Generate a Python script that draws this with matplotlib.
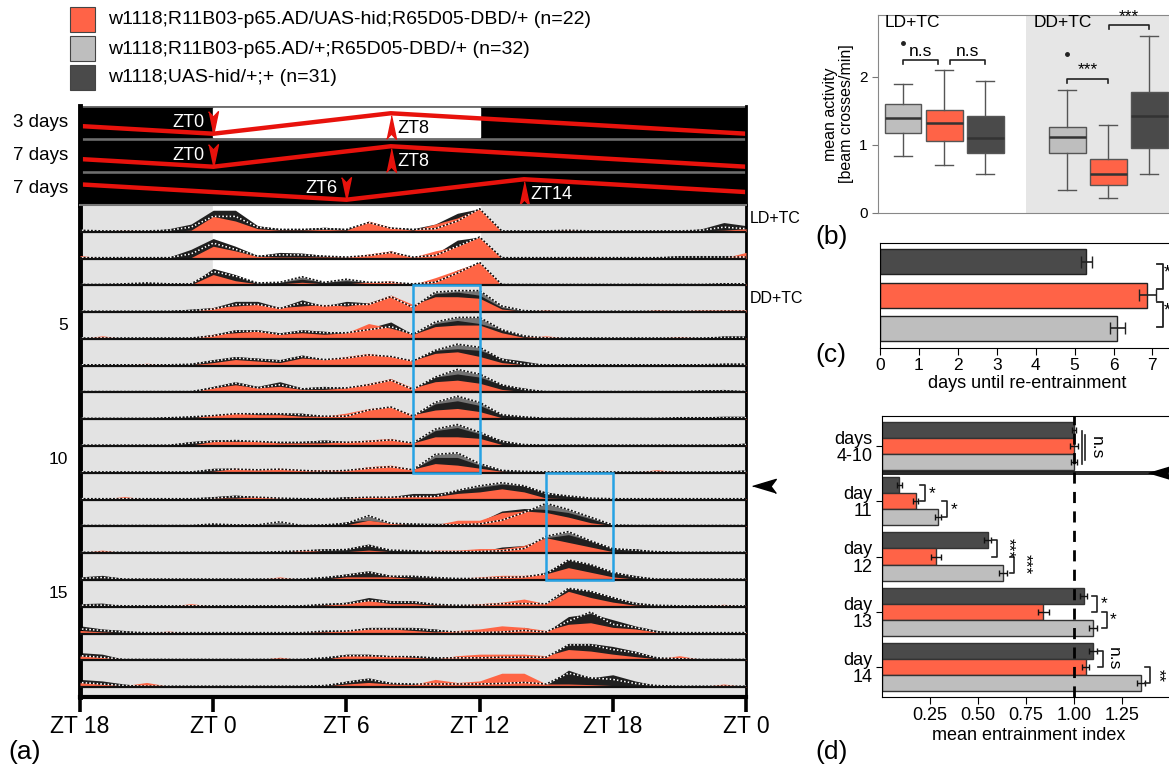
import numpy as np
import matplotlib.pyplot as plt
from matplotlib.patches import Rectangle

plt.rcParams['font.family'] = ['Liberation Sans', 'DejaVu Sans']

W, H = 1169, 770
RED = '#ff6347'
GREY = '#bebebe'
DARK = '#4a4a4a'

# ---------------- data ----------------
genotypes = ['w1118;R11B03-p65.AD/UAS-hid;R65D05-DBD/+ (n=22)',
             'w1118;R11B03-p65.AD/+;R65D05-DBD/+ (n=32)',
             'w1118;UAS-hid/+;+ (n=31)']
geno_colors = [RED, GREY, DARK]

# actogram: hourly activity (tenths of row height), hour 0 = ZT18 of previous day
hours = np.arange(31)
zt_ticks = [0, 6, 12, 18, 24, 30]
zt_labels = ['ZT 18', 'ZT 0', 'ZT 6', 'ZT 12', 'ZT 18', 'ZT 0']
ld_days = 3           # first days with lights on ZT0-ZT12
light_hours = (6, 18)

red_act = [
    [.3,.2,.6,.3,.2,.5,5,3.5,1,.5,.5,.8,.5,3.5,1.5,.5,2.5,4.5,7.5,0,.2,.2,.8,.2,.2,.2,.2,.2,.3,.5,1],
    [1,.2,.2,.2,.2,.3,4,2.5,.7,.5,.5,.5,.5,1.5,2.5,.5,2.5,4,7,0,.2,.2,.5,.5,.2,.2,.2,.2,.2,.2,2],
    [.3,.2,.2,.3,.2,.2,3.5,1.5,.5,.5,1,.5,.5,1,1.5,.3,2.5,5,7.5,0,.2,.2,.2,.2,.2,.2,.2,.2,.2,.2,.5],
    [.2,.2,.2,.2,.2,.3,1.5,2,2.5,1.5,2,2.5,2,3,5.5,2.5,5,5,4.5,1,.3,.8,.3,.3,.3,.3,.8,.5,.8,.8,.8],
    [.2,1,.2,.5,.2,.3,1.5,2,2.5,1.5,2,1.5,2,5,3.5,1.5,4,4.5,4.5,2,.5,1,.3,.3,.3,.3,.3,.8,.3,.3,.3],
    [.2,.2,.2,.8,.3,.3,1,2,1.5,1,2.5,2,3,4,3,1.8,4,4.5,3,1,.3,.3,.3,.3,.3,.3,.3,.3,.3,.3,.3],
    [.2,.2,.2,.2,.2,.3,1.5,2.5,1.5,2,1,1,1.5,3,4.5,1.5,3.5,4,3,1,.3,.3,.3,.3,.3,.3,.3,.3,.3,.3,.3],
    [.2,.2,.2,.2,.2,.3,1.5,2,1.5,1.5,1,1,2,3.5,4,1.5,3,3.5,2.5,.5,.3,.3,.3,.3,.3,.3,.3,.3,.3,.3,.3],
    [.2,.2,.2,.2,.2,.3,1.5,1.5,1.5,1,1,1,1.5,2,2.5,1,3,3,2.5,.5,.3,.3,.3,.3,.3,.3,.3,.3,.3,.3,.3],
    [.2,.2,.2,.2,.2,.3,.5,1.5,1,1.5,1,1,1,2,2.5,1.2,3,2.5,1.5,.5,.3,.3,.3,.3,.3,.3,1,.3,.3,.3,.3],
    [.2,.2,1,.2,.2,.2,.5,.5,1,.5,.3,.5,.5,1,1,1,1,2,2.5,3.5,2.5,.5,.3,.3,.3,.3,.3,.3,.3,.3,.3],
    [.2,.2,.2,.2,.2,.2,.3,.3,.5,.3,.3,.3,.5,2,1,.5,.5,2,2,4.5,5,4.5,3,1.2,.3,.3,.3,.3,.3,.3,.3],
    [.2,1,.2,.5,.2,.3,.5,.3,.3,.3,1,.5,.5,1,.5,.3,1,1,1.5,1.5,2.5,5,3.5,2,.5,.3,.3,.5,.3,.3,.3],
    [.3,.5,.2,.5,.2,.2,.2,.2,.2,1,.2,.3,1,1,1,.5,.5,.5,1,1.5,1.5,2,4,2.5,1,.3,.3,.3,.5,.3,.2],
    [.5,.3,.2,.2,.2,1,.2,.2,.2,.2,.3,.5,1,2,1,1,.5,.5,1,1.5,2.5,1,5,3,1.5,.5,.3,.3,.3,.8,.2],
    [1,.5,.2,.3,.8,.2,.2,.2,.2,.2,.5,.5,1,1.5,1.5,1,.5,1,1.5,2.5,2,1,3,3.5,2,1.5,.5,.3,.3,.3,.3],
    [1.5,1,.5,.2,.2,.2,.2,.2,.2,1,.2,.3,1.5,1.5,1.5,1,.5,1.5,2,2,2,1.5,3.5,3,2,1.2,.5,1.5,.3,.2,.2],
    [1.5,1,.5,1.5,.3,.2,.2,.2,.2,.2,.2,.3,1,1.5,1,.8,2.5,1.5,2,4.5,4.5,1,1,.8,.5,.5,.5,.2,.2,1,.2],
]
dark_act = [
    [.5,.3,.3,.3,1,2.5,7,7,2,1,1,1.5,1,3,1.5,1,2.5,6,7.5,.3,.3,.3,.3,.5,.3,.3,.3,.3,1,3,2],
    [.3,.3,.3,.3,.5,3,6.5,4,1,2,1.8,1,.5,1,2.5,.5,1.5,6,7,.5,.3,.3,.3,.3,.3,.3,.5,1,1,1,1],
    [.5,.5,.5,1,.5,.5,5.5,3.5,.8,1,2,1,1.5,1,1,.5,1.5,5,7.5,.3,.3,.3,.3,.3,.3,.3,.3,.3,.5,.8,.5],
    [.3,.3,.3,.3,.5,1,1.5,3.5,3.5,1.5,4,2,3.5,3,5.5,2,6,6.5,5.5,1.5,.3,.3,.3,.3,.3,.3,.3,.3,.5,.5,.5],
    [.3,.3,.3,.3,.3,.5,1.5,3,3,2,3,2.5,2,3.5,5.5,1.5,5,6,5,3,1,.5,.3,.3,.3,.3,.3,.3,.3,1,1],
    [.3,.3,.3,.3,.3,.8,2,3,2.5,2,3.5,2,2.5,3.5,3,1.8,5,5.5,5,2.5,1.5,.3,.3,.3,.3,.3,.3,.3,.3,.8,.8],
    [.3,.3,.3,.3,.3,.5,2,3.5,2,3.5,1.5,2,1.5,2.5,4.5,1.2,5,6,5,2.5,1.5,.3,.3,.3,.3,.3,.3,.3,.8,1,.5],
    [.3,.3,.3,.3,.8,1,1.5,2,2,2,2,1,1,3,4,1.2,5,6,4.5,1.5,1,.3,.3,.3,.3,.3,.3,.8,.8,1,1],
    [.3,.3,.3,.5,.5,1.5,2,2,1.5,1.5,1.5,2,1.5,1.5,2,1,5,6,4,2,.5,.3,.3,.3,.3,.3,.3,.3,.3,.5,1],
    [.3,.3,.3,.3,.3,.5,1.5,1.5,1,1,1,.5,1,1.5,2,1.2,5,5,2.5,1,.5,.3,.3,.3,.3,.3,.3,.3,.3,.5,1],
    [.3,.3,.3,.3,.3,.5,1,1.5,1,.5,.5,.3,1,1,1,2,2,3,4,5,4.5,2.5,1.2,.5,.3,.3,.3,.3,.3,.3,.5],
    [.3,.3,.3,.3,.3,.3,1,.5,.5,.5,.3,.5,1.5,2,1,1,1,1,1.5,5,5.8,5.5,4.5,2.5,.5,.3,.3,.3,.3,.3,.3],
    [.3,.3,.3,.3,.3,.3,.3,.3,.3,.5,1,1.5,1.5,3,1,1,.5,.5,.5,2,2.5,5,6,4,1.5,1.5,.5,.3,.3,.3,.3],
    [1,1.5,.5,.3,.3,.3,.3,.3,.3,.3,.5,1,2,3,1.5,1.5,1,.5,.5,.5,.5,2.7,6.5,5,2.5,1.5,.3,.3,.3,.3,.3],
    [1,1.2,.3,.3,.3,.3,.3,.3,.3,.3,.5,1,1.5,3,2,2,1,.5,.5,.5,.5,.5,6,5,3,1.5,.5,.3,.3,.3,.3],
    [2.5,1.5,1,.3,.3,.3,.3,.3,.3,.3,.3,1,1,2,2,2,1.5,.5,.3,.3,2,.5,5.5,6.5,4.5,2.5,1,.3,.3,.3,.3],
    [2.5,2,.3,.3,.3,.3,.3,.3,.3,.3,.3,1,2,2,1.5,1.5,1,.5,.3,.3,1.5,.5,5.5,5.5,4.5,3,1,.3,.3,.3,.3],
    [2.5,2,1,.3,.3,.3,.3,.5,.3,.3,.3,.5,2,3,1.5,1.2,1,.5,.3,.3,.3,.5,5.5,3,4,2,.5,.3,.3,.3,.3],
]
grey_act = [
    [.5,.3,.3,.3,.5,1.5,5,5,1.5,.8,.8,1,.8,3,1.2,.8,1,3.5,7.5,.3,.3,.3,.5,.3,.3,.3,.3,.3,.5,1.5,1],
    [.3,.3,.3,.3,.3,1.5,5,3,.8,1.2,1.2,.8,.5,1,2,.5,1,4,7,.3,.3,.3,.3,.3,.3,.3,.3,.5,.5,.5,.5],
    [.3,.3,.5,.8,.5,.5,4.5,3,.8,1,2.8,1,2,1,1,.5,1,4,7.5,.3,.3,.3,.3,.3,.3,.3,.3,.3,.3,.5,.5],
    [.3,.3,.3,.3,.3,.5,1,2.5,2.5,1.2,3,2,2.5,2.5,5,1.5,6.5,7,7,2,.5,.3,.3,.3,.3,.3,.3,.3,.3,.3,.3],
    [.3,.3,.3,.3,.3,.3,1,2.5,2.5,1.5,2.5,2,2,3,4,1.5,5.5,7,7,3,1,.3,.3,.3,.3,.3,.3,.3,.3,.5,.5],
    [.3,.3,.3,.3,.3,.5,1.5,2.5,2,1.5,3,2,2.5,3.5,3,1.5,5,7,6,2,.5,.3,.3,.3,.3,.3,.3,.3,.3,.5,.5],
    [.3,.3,.3,.3,.3,.3,1.5,3,1.5,2.5,1.2,1.5,1.5,2.5,4,1,5,7.5,6,2.5,1,.3,.3,.3,.3,.3,.3,.3,.5,.5,.3],
    [.3,.3,.3,.3,.5,.8,1.2,1.8,1.8,1.8,1.5,1,1,3,4,1,5.5,7.5,5.5,1.5,.8,.3,.3,.3,.3,.3,.3,.5,.5,.5,.5],
    [.3,.3,.3,.3,.3,1,1.5,1.8,1.5,1.2,1.2,1.5,1.2,1.5,2,1,5.5,7,4.5,1.5,.5,.3,.3,.3,.3,.3,.3,.3,.3,.3,.5],
    [.3,.3,.3,.3,.3,.3,1,1.2,1,1.2,.8,.5,.8,1.5,2,1,6,6.5,3,.8,.5,.3,.3,.3,.3,.3,.3,.3,.3,.3,.5],
    [.3,.3,.3,.3,.3,.3,.5,1,.8,.5,.3,.3,.5,.8,.8,1,1,3,4.5,5.5,4.5,2,1.2,.5,.3,.3,.3,.3,.3,.3,.3],
    [.3,.3,.3,.3,.3,.3,.8,.5,.5,1.5,.3,.5,1,3.5,1,.8,.5,.5,.8,2,4.5,7.5,5.5,3,.5,.3,.3,.3,.3,.3,.3],
    [.3,.3,.3,.3,.3,.3,.3,.3,.3,.5,.8,1,1.2,2.5,1,.8,.5,.5,.5,.8,1.5,5.5,7,4,1.5,1,.5,.3,.3,.3,.3],
    [.5,.8,.3,.3,.3,.3,.3,.3,.3,.3,.3,.8,1.5,2.5,1.2,1.2,.8,.5,.5,.8,1,2,6.5,5,2.5,1,.3,.3,.3,.3,.3],
    [.5,.5,.3,.3,.3,.3,.3,.3,.3,.3,.3,.8,1,2,1.5,1.5,.8,.5,.5,1,1,1,6,5,3,1,.5,.3,.3,.3,.3],
    [1.5,1,.5,.3,.3,.3,.3,.3,.3,.3,.3,.8,.8,1.5,1.5,1.5,1,.5,.3,.5,1,.5,4,7,3,2,.5,.3,.3,.3,.3],
    [1.5,1,.3,.3,.3,.3,.3,.3,.3,.3,.3,.8,1.5,1.5,1.2,1.2,.8,.8,.8,1,1,1,5,5,3.5,2.5,.8,.5,.3,.3,.3],
    [1.5,1,.5,.3,.3,.3,.3,.3,.3,.3,.3,.5,1.5,2.5,1.2,1,1,1,1,1.2,1.5,1,4.5,3,2.5,1.2,.5,.3,.3,.3,.3],
]
row_labels = [5, 10, 15]
box_days = [(4, 10), (11, 14)]
box_zt = [(9, 12), (15, 18)]

# temperature schedules (relative temperature, 0 = min, 1 = max)
temp_days = ['3 days', '7 days', '7 days']
temp_t = [[0, 6, 14, 30], [0, 6, 14, 30], [0, 12, 20, 30]]
temp_level = [[0.375, 0, 1, 0], [0.375, 0, 1, 0], [0.75, 0, 1, 0.375]]
temp_min_t = [6, 6, 12]
temp_max_t = [14, 14, 20]
temp_min_lab = ['ZT0', 'ZT0', 'ZT6']
temp_max_lab = ['ZT8', 'ZT8', 'ZT14']
temp_light = [True, False, False]

# (b) mean activity boxplots: LD+TC then DD+TC, each grey/red/dark
box_pos = [1, 2, 3, 5, 6, 7]
box_colors = [GREY, RED, DARK, GREY, RED, DARK]
box_whislo = [0.84, 0.71, 0.58, 0.34, 0.22, 0.57]
box_q1 = [1.17, 1.06, 0.88, 0.88, 0.41, 0.96]
box_med = [1.40, 1.32, 1.10, 1.11, 0.57, 1.42]
box_q3 = [1.60, 1.51, 1.42, 1.27, 0.80, 1.78]
box_whishi = [1.90, 2.10, 1.94, 1.81, 1.29, 2.60]
box_fliers = [[2.50], [], [], [2.33], [], []]

# (c) days until re-entrainment: dark, red, grey
reent_mean = [5.3, 6.87, 6.1]
reent_err = [0.14, 0.21, 0.2]

# (d) mean entrainment index
ei_groups = ['days\n4-10', 'day\n11', 'day\n12', 'day\n13', 'day\n14']
ei_dark = [1.0, 0.09, 0.55, 1.05, 1.10]
ei_red = [1.0, 0.175, 0.28, 0.84, 1.06]
ei_grey = [1.0, 0.29, 0.63, 1.10, 1.35]
ei_dark_err = [0.012, 0.012, 0.02, 0.02, 0.02]
ei_red_err = [0.02, 0.012, 0.025, 0.03, 0.02]
ei_grey_err = [0.015, 0.015, 0.02, 0.02, 0.02]


def fx(x):
    return x / W


def fy(y):
    return 1 - y / H


fig = plt.figure(figsize=(W / 100, H / 100), dpi=100)

# legend
for k, (lab, c) in enumerate(zip(genotypes, geno_colors)):
    yc = 20 + 29 * k
    fig.add_artist(Rectangle((fx(70), fy(yc + 12)), 25 / W, 25 / H, transform=fig.transFigure,
                             facecolor=c, edgecolor='#444', lw=0.8))
    fig.text(fx(108), fy(yc), lab, fontsize=14, va='center', ha='left')

# ---------------- (a) temperature bars ----------------
tax = fig.add_axes([fx(80), fy(205), (746 - 80) / W, (205 - 106) / H])
tax.set_xlim(0, 30)
tax.set_ylim(0, 3)
tax.set_facecolor('#6e6e6e')
arrow_down = [(-0.42, 1), (0, 0.55), (0.42, 1), (0, -1)]
arrow_up = [(-0.42, -1), (0, -0.55), (0.42, -1), (0, 1)]
for k in range(3):
    b = 2 - k + 0.06
    tax.add_patch(Rectangle((0, b), 30, 0.88, color='black', zorder=1))
    if temp_light[k]:
        tax.add_patch(Rectangle((light_hours[0], b), light_hours[1] - light_hours[0], 0.88,
                                color='white', zorder=1))
    tax.plot(temp_t[k], b + 0.1 + np.array(temp_level[k]) * 0.62, color='#e8120c', lw=3.2,
             solid_capstyle='butt', zorder=2)
    tax.plot(temp_min_t[k], b + 0.42, marker=arrow_down, ms=17, color='#e8120c', zorder=3)
    tax.plot(temp_max_t[k], b + 0.3, marker=arrow_up, ms=17, color='#e8120c', zorder=3)
    tax.text(temp_min_t[k] - 0.4, b + 0.45, temp_min_lab[k], color='white', fontsize=13,
             ha='right', va='center', zorder=4)
    tcol = 'black' if (temp_light[k] and temp_max_t[k] < light_hours[1]) else 'white'
    tax.text(temp_max_t[k] + 0.3, b + 0.27, temp_max_lab[k], color=tcol, fontsize=13,
             ha='left', va='center', zorder=4)
    tax.text(-0.55, b + 0.44, temp_days[k], fontsize=13.5, ha='right', va='center')
tax.set_xticks([])
tax.set_yticks([])
for s in ['top', 'bottom']:
    tax.spines[s].set_visible(False)
tax.spines['left'].set_linewidth(3.5)
tax.spines['right'].set_linewidth(2)

# ---------------- (a) actogram ----------------
ax = fig.add_axes([fx(80), fy(697), (746 - 80) / W, (697 - 205) / H])
ax.set_xlim(0, 30)
ax.set_ylim(-0.37, 18)
ax.set_facecolor('#e3e3e3')
s = 0.115
for i in range(18):
    base = 17 - i
    if i < ld_days:
        ax.add_patch(Rectangle((light_hours[0], base), light_hours[1] - light_hours[0], 1,
                               color='white', zorder=0))
    g = base + np.array(grey_act[i]) * s
    d = base + np.array(dark_act[i]) * s
    r = base + np.array(red_act[i]) * s
    ax.fill_between(hours, base, g, color='#747474', lw=0, zorder=1)
    ax.fill_between(hours, base, d, color='#202020', lw=0, zorder=2)
    ax.fill_between(hours, base, r, color='#ff6545', lw=0, zorder=3)
    ax.plot(hours, g, color='#111111', lw=1.1, ls=(0, (1.2, 1.2)), gapcolor='white', zorder=4)
    ax.axhline(base, color='#111111', lw=1.6, zorder=5)

for (d0, d1), (z0, z1) in zip(box_days, box_zt):
    ax.add_patch(Rectangle((z0 + 6, 18 - d1), z1 - z0, d1 - d0 + 1, fill=False,
                           edgecolor='#27a2e4', lw=1.8, zorder=6))

for r in row_labels:
    ax.text(-0.55, 18 - r + 0.5, str(r), fontsize=12.5, ha='right', va='center')
ax.text(30.15, 17.5, 'LD+TC', fontsize=11.5, ha='left', va='center')
ax.text(30.15, 14.5, 'DD+TC', fontsize=11.5, ha='left', va='center')
arrow_left = [(-1, 0), (1, 0.6), (0.55, 0), (1, -0.6)]
ax.plot(30.8, 7.5, marker=arrow_left, ms=17, color='black', clip_on=False)

ax.set_xticks(zt_ticks)
ax.set_xticklabels(zt_labels, fontsize=16.5)
ax.set_yticks([])
ax.tick_params(axis='x', length=11, width=2.6, pad=2)
ax.spines['left'].set_linewidth(3.5)
ax.spines['bottom'].set_linewidth(3)
ax.spines['right'].set_linewidth(2)
ax.spines['top'].set_color('#777777')
ax.spines['top'].set_linewidth(1.5)

# ---------------- (b) boxplots ----------------
bax = fig.add_axes([fx(878), fy(213), (1175 - 878) / W, (213 - 15) / H])
bax.set_xlim(0.39, 7.63)
bax.set_ylim(0, 2.91)
bax.axvspan(4, 8, color='#e6e6e6', lw=0, zorder=0)
stats = []
for i in range(len(box_pos)):
    stats.append(dict(whislo=box_whislo[i], q1=box_q1[i], med=box_med[i], q3=box_q3[i],
                      whishi=box_whishi[i], fliers=box_fliers[i]))
bp = bax.bxp(stats, positions=box_pos, widths=0.9, patch_artist=True, capwidths=0.45,
             boxprops=dict(edgecolor='#555555', lw=1),
             medianprops=dict(color='#333333', lw=1.8),
             whiskerprops=dict(color='#555555', lw=1),
             capprops=dict(color='#555555', lw=1),
             flierprops=dict(marker='o', ms=2.5, mfc='#222222', mec='#222222'))
for patch, c in zip(bp['boxes'], box_colors):
    patch.set_facecolor(c)


def hbracket(a, x1, x2, y, text, h=0.06):
    a.plot([x1, x1, x2, x2], [y - h, y, y, y - h], color='#222222', lw=1.2)
    a.text((x1 + x2) / 2, y + 0.02, text, ha='center', va='bottom', fontsize=12.5)


hbracket(bax, 1.0, 1.85, 2.25, 'n.s')
hbracket(bax, 2.15, 3.0, 2.25, 'n.s')
hbracket(bax, 5.0, 6.0, 1.97, '***')
hbracket(bax, 6.02, 7.0, 2.76, '***')
bax.text(0.56, 2.8, 'LD+TC', fontsize=12.5, va='center')
bax.text(4.19, 2.8, 'DD+TC', fontsize=12.5, va='center')
bax.set_xticks([])
bax.set_yticks([0, 1, 2])
bax.tick_params(axis='y', labelsize=11, length=4, color='#777777')
bax.set_ylabel('mean activity\n[beam crosses/min]', fontsize=11.5, labelpad=4, linespacing=1.05)
for sp in bax.spines.values():
    sp.set_color('#888888')

# ---------------- (c) re-entrainment ----------------
cax = fig.add_axes([fx(880), fy(348), (1175 - 880) / W, (348 - 243) / H])
cax.set_xlim(0, 7.58)
cax.set_ylim(-0.59, 2.57)
cax.barh([2, 1, 0], reent_mean, height=0.75, color=[DARK, RED, GREY], edgecolor='#222222',
         lw=1, xerr=reent_err, capsize=4.5, error_kw=dict(lw=1.2, ecolor='#222222'))
for (y1, y2) in [(1.95, 1.2), (0.8, 0.05)]:
    cax.plot([7.12, 7.26, 7.26, 7.12], [y1, y1, y2, y2], color='#222222', lw=1.3, clip_on=False)
    cax.text(7.3, (y1 + y2) / 2 + 0.1, '*', fontsize=13, ha='left', va='center', clip_on=False)
cax.set_xticks(range(8))
cax.set_yticks([])
cax.tick_params(axis='x', labelsize=12.5, length=5, pad=2)
cax.set_xlabel('days until re-entrainment', fontsize=13, labelpad=2)
cax.spines['right'].set_visible(False)

# ---------------- (d) entrainment index ----------------
dax = fig.add_axes([fx(882), fy(697), (1175 - 882) / W, (697 - 416) / H])
dax.set_xlim(0, 1.526)
dax.set_ylim(-4.54, 0.54)
y0 = -np.arange(len(ei_groups))
bh = 0.29
ekw = dict(lw=1, ecolor='#111111')
dax.barh(y0 + bh, ei_dark, height=bh, color=DARK, edgecolor='#333333', lw=1,
         xerr=ei_dark_err, capsize=2.2, error_kw=ekw)
dax.barh(y0, ei_red, height=bh, color=RED, edgecolor='#333333', lw=1,
         xerr=ei_red_err, capsize=2.2, error_kw=ekw)
dax.barh(y0 - bh, ei_grey, height=bh, color=GREY, edgecolor='#333333', lw=1,
         xerr=ei_grey_err, capsize=2.2, error_kw=ekw)
dax.axvline(1.0, color='black', lw=2, ls=(0, (4, 3)), zorder=5)
dax.axhline(-0.47, color='black', lw=1.2)
dax.axhline(-0.505, color='black', lw=1.2)
dax.plot(1.45, -0.49, marker=arrow_left, ms=17, color='black', clip_on=False)


def vbracket(a, x, yc, text, upper, rot, dx=0.018, fs=12.5):
    y1, y2 = (yc + bh, yc) if upper else (yc, yc - bh)
    a.plot([x - 0.025, x, x, x - 0.025], [y1, y1, y2, y2], color='#222222', lw=1.2)
    a.text(x + dx, (y1 + y2) / 2, text, rotation=-90 if rot else 0, ha='left',
           va='center', fontsize=fs)


dax.plot([1.04, 1.04], [0.27, -0.33], color='#222222', lw=1.2)
dax.plot([1.055, 1.055], [0.2, -0.25], color='#222222', lw=1.2)
dax.text(1.075, -0.03, 'n.s', rotation=-90, ha='left', va='center', fontsize=12.5)
vbracket(dax, 0.225, -1, '*', True, False)
vbracket(dax, 0.34, -1, '*', False, False)
vbracket(dax, 0.6, -2, '***', True, True)
vbracket(dax, 0.69, -2, '***', False, True)
vbracket(dax, 1.12, -3, '*', True, False)
vbracket(dax, 1.17, -3, '*', False, False)
vbracket(dax, 1.15, -4, 'n.s', True, True)
vbracket(dax, 1.395, -4, '**', False, True, dx=0.004, fs=12)

dax.set_yticks(y0)
dax.set_yticklabels(ei_groups, fontsize=13, linespacing=1.0)
dax.set_xticks([0.25, 0.5, 0.75, 1.0, 1.25])
dax.set_xticklabels(['0.25', '0.50', '0.75', '1.00', '1.25'])
dax.tick_params(axis='x', labelsize=13, length=5, pad=2)
dax.tick_params(axis='y', length=4, pad=3)
dax.set_xlabel('mean entrainment index', fontsize=13, labelpad=2)
dax.spines['right'].set_visible(False)

# panel letters
fig.text(fx(8), fy(752), '(a)', fontsize=19, va='center')
fig.text(fx(815), fy(237), '(b)', fontsize=19, va='center')
fig.text(fx(815), fy(355), '(c)', fontsize=19, va='center')
fig.text(fx(815), fy(752), '(d)', fontsize=19, va='center')

fig.savefig('out.png', dpi=100)
